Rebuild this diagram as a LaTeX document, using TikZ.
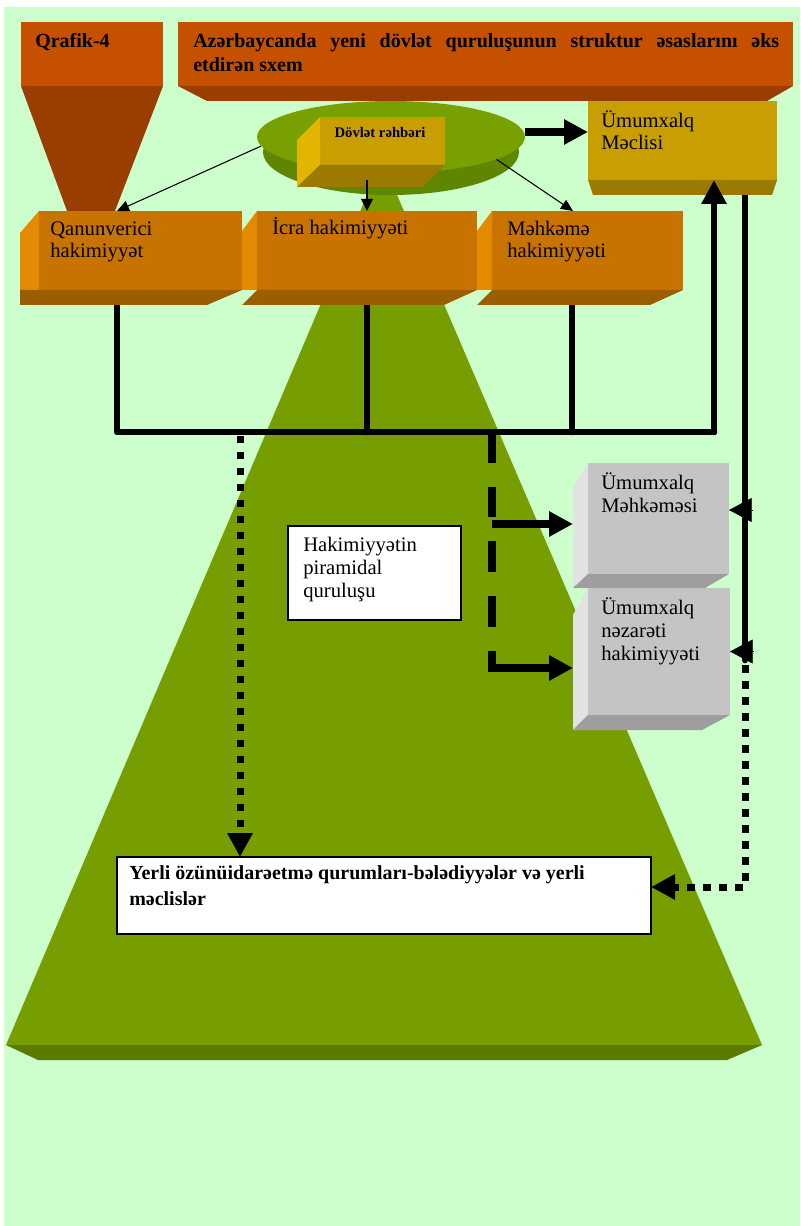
\documentclass[tikz,border=0pt]{standalone}
\usepackage{fontspec}
\setmainfont{Liberation Serif}
\usetikzlibrary{arrows.meta,fit,shapes.geometric}
\pgfdeclarelayer{bglayer}
\pgfdeclarelayer{midlayer}
\pgfsetlayers{bglayer,midlayer,main}
\definecolor{bgc}{HTML}{CCFFCC}
\definecolor{hdr}{HTML}{C55000}
\definecolor{hdrdark}{HTML}{993D00}
\definecolor{pyr}{HTML}{779E00}
\definecolor{pyrdark}{HTML}{5B7A00}
\definecolor{elltop}{HTML}{78A000}
\definecolor{elldark}{HTML}{5E8600}
\definecolor{orf}{HTML}{C87300}
\definecolor{orl}{HTML}{E38A00}
\definecolor{orb}{HTML}{9A5E00}
\definecolor{gof}{HTML}{C89E00}
\definecolor{gol}{HTML}{E3B400}
\definecolor{gob}{HTML}{9A7A00}
\definecolor{grf}{HTML}{C4C4C4}
\definecolor{grl}{HTML}{E2E2E2}
\definecolor{grb}{HTML}{9E9E9E}
\begin{document}
\begin{tikzpicture}[x=0.75pt,y=-0.75pt,
  face/.style={inner sep=0pt, outer sep=0pt},
  lbl/.style={anchor=base west, inner sep=0pt, align=left, font=\fontsize{15.5}{17}\selectfont},
  bus/.style={line width=5pt, line cap=round, line join=round},
  bigtip/.style={-{Triangle[length=18pt,width=18pt]}},
  thinarrow/.style={line width=0.8pt, -{Triangle[length=9pt,width=8pt]}},
  dotline/.style={line width=5.25pt, dash pattern=on 5.5pt off 6.5pt},
  dashline/.style={line width=6pt, dash pattern=on 23pt off 18pt},
]
\useasboundingbox (0,0) rectangle (800,1226);
\begin{pgfonlayer}{bglayer}
\fill[white] (0,0) rectangle (800,1226);
\fill[bgc] (4,7) rectangle (800,1226);
% pyramid
\fill[pyr] (382,160) -- (6,1045) -- (762,1045) -- cycle;
\fill[pyrdark] (6,1045) -- (762,1045) -- (727,1060) -- (38,1060) -- cycle;
% funnel under Qrafik-4
\fill[hdrdark] (21,86) -- (163,86) -- (115,211) -- (67,211) -- cycle;
\end{pgfonlayer}

% header boxes
\node[face, fill=hdr, fit={(21,22)(163,86)}] (qraf) {};
\node[face, fill=hdr, fit={(178,22)(793,86)}] (ttl) {};
\fill[hdrdark] (178,86) -- (793,86) -- (767,101) -- (207,101) -- cycle;
\node[anchor=base west, inner sep=0pt, font=\bfseries\fontsize{15}{18}\selectfont] (qraftext) at (35,48) {Qrafik-4};
\node[anchor=base west, inner sep=0pt, align=left, font=\bfseries\fontsize{15}{18}\selectfont] (ttltext) at (193,72)
  {\hbox to 439.5pt{Azərbaycanda\hfill yeni\hfill dövlət\hfill quruluşunun\hfill struktur\hfill əsaslarını\hfill əks}\\etdirən sxem};

% disk
\node[ellipse, fill=elldark, minimum width=192pt, minimum height=64.5pt, inner sep=0pt] (rim) at (391,152) {};
\node[ellipse, fill=elltop, minimum width=201pt, minimum height=54pt, inner sep=0pt] (disk) at (391,137) {};

% Dovlet rehberi box
\node[face, fill=gof, fit={(320,117)(445,165)}] (dov) {};
\fill[gol] (320,117) -- (297,140) -- (297,187) -- (320,165) -- cycle;
\fill[gob] (320,165) -- (445,165) -- (423,187) -- (297,187) -- cycle;
\node[anchor=base, inner sep=0pt, font=\bfseries\fontsize{11}{13}\selectfont] (dovtext) at (380,138) {Dövlət rəhbəri};

% Umumxalq Meclisi
\node[face, fill=gof, fit={(588,101)(777,180)}] (mcl) {};
\fill[gob] (588,180) -- (777,180) -- (772,195) -- (593,195) -- cycle;
\node[lbl] (mcltext) at (601,150) {Ümumxalq\\Məclisi};

% orange boxes
\node[face, fill=orf, fit={(39,211)(242,290)}] (qan) {};
\fill[orl] (39,211) -- (20,233) -- (20,290) -- (39,290) -- cycle;
\fill[orb] (20,290) -- (242,290) -- (207,305) -- (20,305) -- cycle;
\node[lbl] (qantext) at (50,258) {Qanunverici\\hakimiyyət};

\node[face, fill=orf, fit={(257,211)(477,290)}] (icra) {};
\fill[orl] (257,211) -- (242,231) -- (242,290) -- (257,290) -- cycle;
\fill[orb] (257,290) -- (477,290) -- (444,305) -- (242,305) -- cycle;
\node[lbl] (icratext) at (272,235) {İcra hakimiyyəti};

\node[face, fill=orf, fit={(492,211)(683,290)}] (mhk) {};
\fill[orl] (492,211) -- (477,231) -- (477,290) -- (492,290) -- cycle;
\fill[orb] (492,290) -- (683,290) -- (650,305) -- (477,305) -- cycle;
\node[lbl] (mhktext) at (507,258) {Məhkəmə\\hakimiyyəti};

% grey boxes
\node[face, fill=grf, fit={(588,463)(729,574)}] (gmh) {};
\fill[grl] (588,463) -- (573,487) -- (573,588) -- (588,574) -- cycle;
\fill[grb] (588,574) -- (729,574) -- (705,588) -- (573,588) -- cycle;
\node[lbl] (gmhtext) at (601,512) {Ümumxalq\\Məhkəməsi};

\node[face, fill=grf, fit={(588,588)(730,715)}] (gnz) {};
\fill[grl] (588,588) -- (573,615) -- (573,730) -- (588,715) -- cycle;
\fill[grb] (588,715) -- (730,715) -- (702,730) -- (573,730) -- cycle;
\node[lbl] (gnztext) at (601,660) {Ümumxalq\\nəzarəti\\hakimiyyəti};

% white boxes
\node[face, fill=white, draw=black, line width=0.9pt, fit={(288,526)(461,620)}] (hak) {};
\node[lbl] (haktext) at (303,597) {Hakimiyyətin\\piramidal\\quruluşu};

\node[face, fill=white, draw=black, line width=0.9pt, fit={(117,857)(651,934)}] (yer) {};
\node[anchor=base west, inner sep=0pt, align=left, font=\bfseries\fontsize{15}{19.5}\selectfont] (yertext) at (129,905)
  {Yerli özünüidarəetmə qurumları-bələdiyyələr və yerli\\məclislər};

% coordinates
\coordinate (b1) at (117,432);
\coordinate (b2) at (367,432);
\coordinate (b3) at (572,432);
\coordinate (b4) at (714,432);
\coordinate (bd) at (240,432);
\coordinate (bq) at (492,432);
\coordinate (q1) at (492,524);
\coordinate (q2) at (492,668);
\coordinate (t1) at (573,524);
\coordinate (t2) at (573,668);
\coordinate (r1) at (745,660);
\coordinate (r2) at (745,510);
\coordinate (r4) at (745,887);
\coordinate (dovb) at (367,180);

% connectors under boxes
\begin{pgfonlayer}{midlayer}
\draw[bus] (qan.south -| b1) -- (b1) -- (b4);
\draw[bus] (icra.south -| b2) -- (b2);
\draw[bus] (mhk.south -| b3) -- (b3);
\draw[bus] (mcl.south -| r1) -- (r1);
\end{pgfonlayer}

\draw[bus, bigtip] (b4) -- (b4 |- mcl.south);
\draw[thinarrow] (disk.184) -- ([xshift=58.5pt]qan.north west);
\draw[line width=1.9pt, -{Triangle[length=9pt,width=8.5pt]}] (dovb) -- (dovb |- icra.north);
\draw[thinarrow] (disk.-12) -- ([xshift=60.75pt]mhk.north west);
\draw[line width=6pt, bigtip] ([yshift=3.75pt]disk.east) -- ([yshift=3.75pt]disk.east -| mcl.west);

\draw[line width=0.5pt, -{Triangle[length=17pt,width=18pt]}] ([xshift=6pt]r2) -- (r2 -| gmh.east);
\draw[line width=0.5pt, -{Triangle[length=17pt,width=18pt]}] ([xshift=18pt]gnz.east) -- (gnz.east);

\draw[dotline, bigtip] ([yshift=-3pt]bd) -- (bd |- yer.north);
\draw[dotline, bigtip] ([yshift=-4pt]r1) -- (r4) -- (r4 -| yer.east);

\draw[dashline] (bq) -- (q2);
\draw[line width=6pt, bigtip] (q1) -- (t1);
\draw[line width=6pt, line cap=rect, bigtip] (q2) -- (t2);
\end{tikzpicture}
\end{document}
